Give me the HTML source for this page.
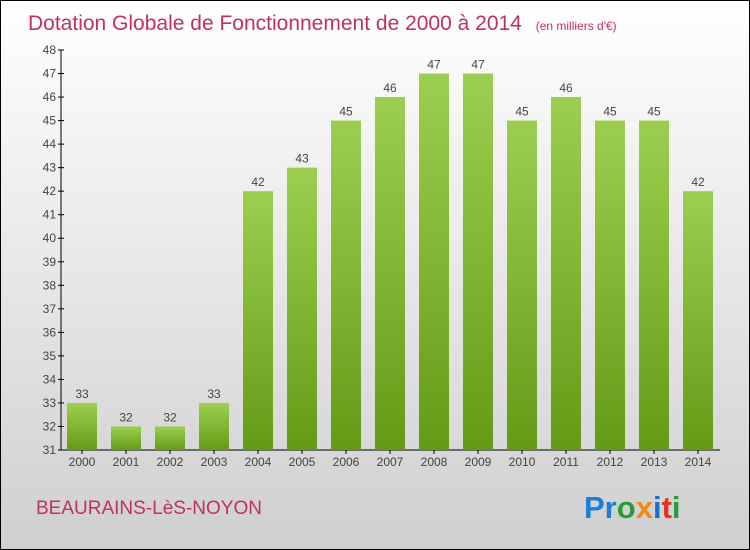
<!DOCTYPE html>
<html><head><meta charset="utf-8"><style>
body{margin:0}
svg{display:block}
text{font-family:"Liberation Sans",sans-serif}
</style></head><body>
<svg id="c" width="750" height="550" viewBox="0 0 750 550">
<defs>
<linearGradient id="bg" x1="0" y1="0" x2="0" y2="1"><stop offset="0" stop-color="#ffffff"/><stop offset="1" stop-color="#cfcfcf"/></linearGradient>
<linearGradient id="bar" x1="0" y1="0" x2="0" y2="1"><stop offset="0" stop-color="#9ccf4f"/><stop offset="1" stop-color="#659a17"/></linearGradient>
</defs>
<rect x="0.5" y="0.5" width="749" height="549" fill="url(#bg)" stroke="#000"/>
<text x="28" y="30" font-size="21" fill="#c0325e">Dotation Globale de Fonctionnement de 2000 à 2014 <tspan font-size="12" dx="8">(en milliers d'€)</tspan></text>
<g id="plot"></g>
<text x="36" y="514" font-size="19" fill="#c0325e">BEAURAINS-LèS-NOYON</text>
<text x="584" y="518" font-size="31" font-weight="bold"><tspan fill="#1a7fd6">Pr</tspan><tspan fill="#2a9a3a">o</tspan><tspan fill="#f08a10">x</tspan><tspan fill="#1a6fd0">i</tspan><tspan fill="#e83020">t</tspan><tspan fill="#2a9a3a">i</tspan></text>
</svg>
<script>
const years=["2000","2001","2002","2003","2004","2005","2006","2007","2008","2009","2010","2011","2012","2013","2014"];
const values=[33,32,32,33,42,43,45,46,47,47,45,46,45,45,42];
const yTicks=[31,32,33,34,35,36,37,38,39,40,41,42,43,44,45,46,47,48];
const NS="http://www.w3.org/2000/svg";
const g=document.getElementById('plot');
const yMin=31,yMax=48,y0=450,y1=50;
const y=v=>y0-(v-yMin)*(y0-y1)/(yMax-yMin);
const x=i=>82+i*44;
function mk(t,a){const e=document.createElementNS(NS,t);for(const k in a)e.setAttribute(k,a[k]);g.appendChild(e);return e;}
let e=mk('line',{x1:61,y1:50,x2:61,y2:450,stroke:'#000'});


e=mk('line',{x1:61,y1:450,x2:720,y2:450,stroke:'#000'});


yTicks.forEach(v=>{
 const t=mk('line',{x1:58,x2:64,y1:y(v),y2:y(v),stroke:'#000'});
 
 
 const l=mk('text',{x:56,y:y(v)+4,'font-size':12,fill:'#444','text-anchor':'end'});
 l.textContent=v;
 
 
});
years.forEach((yr,i)=>{
 const v=values[i];
 const b=mk('rect',{x:x(i)-15,y:y(v),width:30,height:y0-y(v),fill:'url(#bar)'});
 
 
 const l=mk('text',{x:x(i),y:y(v)-5,'font-size':12,fill:'#444','text-anchor':'middle'});
 l.textContent=v;
 
 
 const t=mk('line',{x1:x(i),x2:x(i),y1:450,y2:454,stroke:'#000'});
 
 
 const xl=mk('text',{x:x(i),y:466,'font-size':12,fill:'#444','text-anchor':'middle'});
 xl.textContent=yr;
 
 
});
</script>
</body></html>
